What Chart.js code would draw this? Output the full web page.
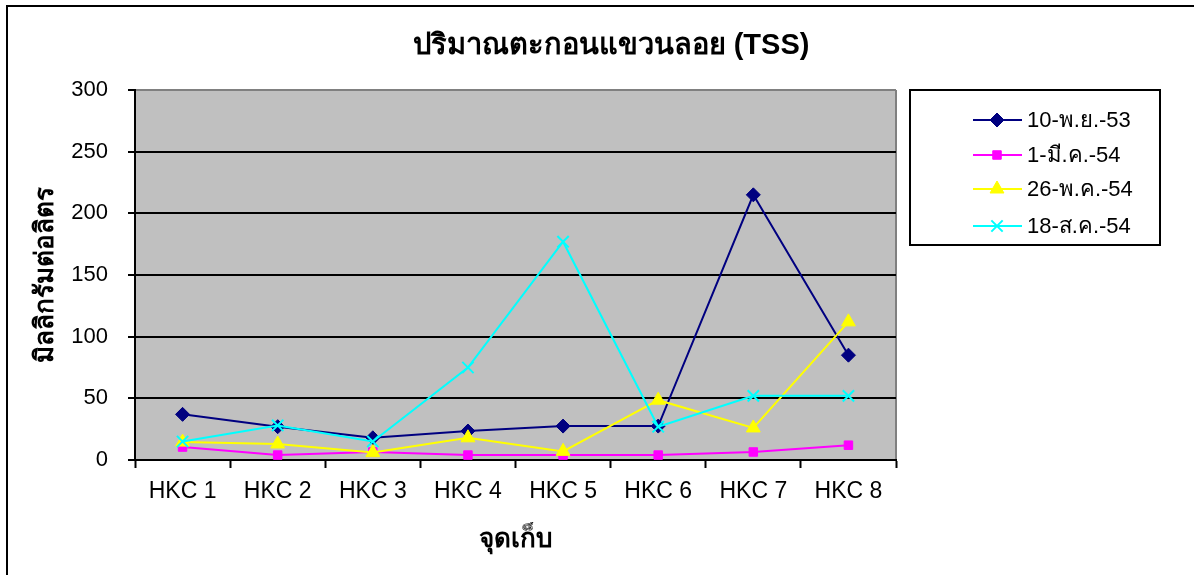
<!DOCTYPE html>
<html>
<head>
<meta charset="utf-8">
<script src="https://cdn.jsdelivr.net/npm/chart.js@4"></script>
<style>
  html, body { margin: 0; padding: 0; background: #fff; }
  #wrap { position: relative; width: 1194px; height: 575px; }
</style>
</head>
<body>
<div id="wrap"><canvas id="tss" width="1194" height="575"></canvas></div>
<script>
// chart data
const stations = ['HKC 1', 'HKC 2', 'HKC 3', 'HKC 4', 'HKC 5', 'HKC 6', 'HKC 7', 'HKC 8'];
const nov53 = [37, 27, 18, 23.5, 27.5, 27.5, 215, 85];
const mar54 = [10.5, 4, 6.5, 4, 4, 4, 6.5, 12];
const may54 = [14.5, 13, 6, 18, 7, 48.5, 26, 112];
const aug54 = [15, 28, 15, 75, 177, 27, 52, 52];
const seriesNames = ['10-พ.ย.-53', '1-มี.ค.-54', '26-พ.ค.-54', '18-ส.ค.-54'];
const yTicks = [0, 50, 100, 150, 200, 250, 300];
const chartTitle = 'ปริมาณตะกอนแขวนลอย (TSS)';

const FONT = 'Arial, "Liberation Sans", "Noto Sans", sans-serif';

// gray plot background, gray right edge, outer frame, title
const backdrop = {
  id: 'backdrop',
  beforeDraw(chart) {
    const { ctx, chartArea: a } = chart;
    ctx.save();
    ctx.fillStyle = '#C0C0C0';
    ctx.fillRect(a.left, a.top, a.right - a.left, a.bottom - a.top);
    ctx.strokeStyle = '#808080';
    ctx.lineWidth = 2;
    ctx.beginPath();
    ctx.moveTo(a.right, a.top);
    ctx.lineTo(a.right, a.bottom);
    ctx.stroke();
    ctx.strokeStyle = '#000';
    ctx.lineWidth = 2;
    ctx.strokeRect(7, 6, 1194, 600);
    ctx.fillStyle = '#000';
    ctx.font = 'bold 29px ' + FONT;
    ctx.textAlign = 'center';
    ctx.textBaseline = 'middle';
    ctx.fillText(chartTitle, 611, 46);
    ctx.restore();
  }
};

// boxed legend at the top right, like the original
const boxLegend = {
  id: 'boxLegend',
  afterDraw(chart) {
    const { ctx } = chart;
    const x0 = 910, y0 = 90, w = 250, h = 155;
    ctx.save();
    ctx.fillStyle = '#fff';
    ctx.fillRect(x0, y0, w, h);
    ctx.strokeStyle = '#000';
    ctx.lineWidth = 2;
    ctx.strokeRect(x0, y0, w, h);
    const rows = [120, 155, 189, 226];
    chart.data.datasets.forEach((ds, i) => {
      const y = rows[i];
      ctx.strokeStyle = ds.borderColor;
      ctx.fillStyle = ds.borderColor;
      ctx.lineWidth = 2;
      ctx.beginPath();
      ctx.moveTo(973, y);
      ctx.lineTo(1022, y);
      ctx.stroke();
      ctx.lineWidth = ds.pointBorderWidth;
      Chart.helpers.drawPoint(ctx, {
        pointStyle: ds.pointStyle,
        radius: ds.pointRadius,
        borderWidth: ds.pointBorderWidth
      }, 997, y);
      ctx.fillStyle = '#000';
      ctx.font = '22px ' + FONT;
      ctx.textBaseline = 'middle';
      ctx.textAlign = 'left';
      ctx.fillText(ds.label, 1027, y + 1);
    });
    ctx.restore();
  }
};

// later series sit on top, as in the original
function series(label, data, color, style, radius, order) {
  return {
    label: label,
    data: data,
    order: order,
    borderColor: color,
    backgroundColor: color,
    pointBackgroundColor: color,
    pointBorderColor: color,
    borderWidth: 2,
    pointStyle: style,
    pointRadius: radius,
    pointHoverRadius: radius,
    pointBorderWidth: style === 'crossRot' ? 2 : 1,
    tension: 0
  };
}

new Chart(document.getElementById('tss'), {
  type: 'line',
  data: {
    labels: stations,
    datasets: [
      series(seriesNames[0], nov53, '#000080', 'rectRot', 7, 3),
      series(seriesNames[1], mar54, '#FF00FF', 'rect', 6, 2),
      series(seriesNames[2], may54, '#FFFF00', 'triangle', 8, 1),
      series(seriesNames[3], aug54, '#00FFFF', 'crossRot', 8, 0)
    ]
  },
  options: {
    responsive: false,
    animation: false,
    layout: { padding: { left: 0, right: 298, top: 90, bottom: 0 } },
    plugins: {
      legend: { display: false },
      tooltip: { enabled: false },
      title: { display: false }
    },
    scales: {
      x: {
        offset: true,
        afterFit(scale) { scale.height = 115; },
        grid: { offset: true, drawOnChartArea: false, drawTicks: true, tickLength: 8, tickColor: '#000', tickWidth: 2 },
        border: { color: '#000', width: 2 },
        ticks: { color: '#000', padding: 10, font: { family: FONT, size: 23 } },
        title: {
          display: true,
          text: 'จุดเก็บ',
          color: '#000',
          font: { family: FONT, size: 26, weight: 'bold' },
          padding: { top: 0, bottom: 20 }
        }
      },
      y: {
        min: 0,
        max: 300,
        afterFit(scale) { scale.width = 135; },
        afterBuildTicks(scale) { scale.ticks = yTicks.map(v => ({ value: v })); },
        grid: {
          color: ctx => (ctx.tick && ctx.tick.value === 300 ? '#808080' : '#000'),
          lineWidth: 2,
          tickLength: 7,
          tickColor: '#000',
          tickWidth: 2
        },
        border: { color: '#000', width: 2 },
        ticks: { color: '#000', padding: 20, font: { family: FONT, size: 22 } },
        title: {
          display: true,
          text: 'มิลลิกรัมต่อลิตร',
          color: '#000',
          font: { family: FONT, size: 26, weight: 'bold' },
          padding: { top: 30, bottom: 0 }
        }
      }
    }
  },
  plugins: [backdrop, boxLegend]
});
</script>
</body>
</html>
